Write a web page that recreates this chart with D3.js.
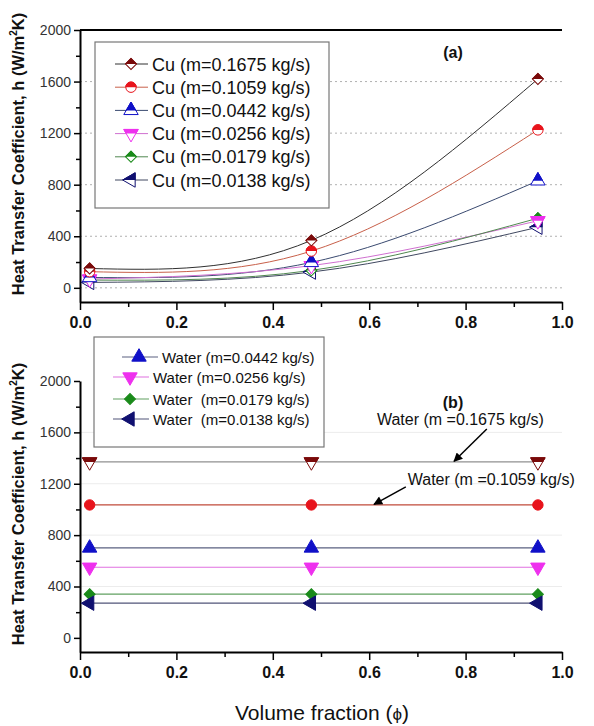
<!DOCTYPE html>
<html>
<head>
<meta charset="utf-8">
<script src="https://cdn.jsdelivr.net/npm/d3@7"></script>
<style>
  body { margin: 0; background: #fff; }
  svg { display: block; font-family: "Liberation Sans", Arial, sans-serif; }
</style>
</head>
<body>
<svg id="chart" width="594" height="726"></svg>
<script>
// x positions (volume fraction)
var phi = [0.02, 0.48, 0.95];

// panel (a) - Cu nanofluid
var cuNames = ["Cu (m=0.1675 kg/s)", "Cu (m=0.1059 kg/s)", "Cu (m=0.0442 kg/s)",
               "Cu (m=0.0256 kg/s)", "Cu (m=0.0179 kg/s)", "Cu (m=0.0138 kg/s)"];
var cu1675 = [150, 368, 1620];
var cu1059 = [125, 285, 1225];
var cu0442 = [80, 197, 830];
var cu0256 = [68, 172, 520];
var cu0179 = [60, 135, 540];
var cu0138 = [42, 122, 470];

// panel (b) - water
var waterNames = ["Water (m=0.0442 kg/s)", "Water (m=0.0256 kg/s)",
                  "Water  (m=0.0179 kg/s)", "Water  (m=0.0138 kg/s)"];
var w1675 = [1370, 1370, 1370];
var w1059 = [1035, 1035, 1035];
var w0442 = [700, 700, 700];
var w0256 = [550, 550, 550];
var w0179 = [340, 340, 340];
var w0138 = [270, 270, 270];

var yTicks = [0, 400, 800, 1200, 1600, 2000];
var yMinor = [200, 600, 1000, 1400, 1800];
var xTicks = [0, 0.2, 0.4, 0.6, 0.8, 1.0];
var xMinor = [0.1, 0.3, 0.5, 0.7, 0.9];

// annotations in panel (b): [text, textX, textY, tailX, tailY, tipX, tipY]
var notes = [
  ["Water (m =0.1675 kg/s)", 0.616, 1658, 0.844, 1626, 0.776, 1375],
  ["Water (m =0.1059 kg/s)", 0.68, 1190, 0.676, 1175, 0.61, 1040]
];

// symbol styles
var maroon = "#7a0a0a", red = "#e8141c", blue = "#1010c8", magenta = "#ee30ee",
    green = "#1a8a1a", navy = "#101070";

var svg = d3.select("#chart");
var defs = svg.append("defs");
defs.append("clipPath").attr("id", "tophalf")
  .append("rect").attr("x", -12).attr("y", -12).attr("width", 24).attr("height", 12);
defs.append("marker").attr("id", "arrow")
  .attr("viewBox", "0 0 10 10").attr("refX", 9).attr("refY", 5)
  .attr("markerWidth", 13).attr("markerHeight", 9).attr("orient", "auto")
  .attr("markerUnits", "userSpaceOnUse")
  .append("path").attr("d", "M0,0 L10,5 L0,10 Z").attr("fill", "#000");

var x = d3.scaleLinear().domain([0, 1]).range([80, 562]);
var yA = d3.scaleLinear().domain([-110, 2000]).range([302, 30]);
var yB = d3.scaleLinear().domain([-110, 2000]).range([652, 381]);

// shape: [d3 symbol, size, rotation]
var shapes = {
  diamond: [d3.symbolSquare, 60, 45],
  circle: [d3.symbolCircle, 85, 0],
  up: [d3.symbolTriangle, 90, 0],
  down: [d3.symbolTriangle, 90, 180],
  left: [d3.symbolTriangle, 90, -90]
};

function marker(g, px, py, shape, color, half) {
  var s = shapes[shape];
  var d = d3.symbol().type(s[0]).size(s[1])();
  var m = g.append("g").attr("transform", "translate(" + px + "," + py + ")");
  if (half) {
    m.append("path").attr("d", d).attr("transform", "rotate(" + s[2] + ")")
      .attr("fill", "#fff").attr("stroke", color).attr("stroke-width", 1);
    m.append("g").attr("clip-path", "url(#tophalf)")
      .append("path").attr("d", d).attr("transform", "rotate(" + s[2] + ")")
      .attr("fill", color).attr("stroke", color).attr("stroke-width", 1);
  } else {
    m.append("path").attr("d", d).attr("transform", "rotate(" + s[2] + ")")
      .attr("fill", color).attr("stroke", color).attr("stroke-width", 1);
  }
}

function drawAxes(y, withTop) {
  var g = svg.append("g");
  // light grid
  g.selectAll(".grid").data([400, 800, 1200, 1600]).enter().append("line")
    .attr("x1", x(0)).attr("x2", x(1))
    .attr("y1", function(d) { return y(d); }).attr("y2", function(d) { return y(d); })
    .attr("stroke", withTop ? "#b0b0b0" : "#ececec")
    .attr("stroke-width", 1).attr("stroke-dasharray", withTop ? "2,3" : null);
  if (withTop) {
    g.append("line").attr("x1", x(0)).attr("x2", x(1)).attr("y1", y(0)).attr("y2", y(0))
      .attr("stroke", "#b0b0b0").attr("stroke-dasharray", "2,3");
    g.append("line").attr("x1", x(0)).attr("x2", x(1)).attr("y1", y(2000)).attr("y2", y(2000))
      .attr("stroke", "#000").attr("stroke-width", 2);
  }
  var ya = g.append("g").attr("transform", "translate(" + x(0) + ",0)")
    .call(d3.axisLeft(y).tickValues(yTicks).tickSize(6).tickSizeOuter(0).tickFormat(d3.format("d")));
  g.append("g").attr("transform", "translate(" + x(0) + ",0)")
    .call(d3.axisLeft(y).tickValues(yMinor).tickSize(4).tickSizeOuter(0).tickFormat(""))
    .select(".domain").remove();
  ya.selectAll("text").attr("font-size", 14).attr("fill", "#333")
    .attr("font-family", "'Liberation Sans', Arial, sans-serif");
  var xa = g.append("g").attr("transform", "translate(0," + y.range()[0] + ")")
    .call(d3.axisBottom(x).tickValues(xTicks).tickSize(8).tickPadding(7).tickSizeOuter(0).tickFormat(d3.format(".1f")));
  g.append("g").attr("transform", "translate(0," + y.range()[0] + ")")
    .call(d3.axisBottom(x).tickValues(xMinor).tickSize(5).tickSizeOuter(0).tickFormat(""))
    .select(".domain").remove();
  xa.selectAll("text").attr("font-size", 16).attr("font-weight", "bold").attr("fill", "#111")
    .attr("font-family", "'Liberation Sans', Arial, sans-serif");
  g.selectAll(".domain").attr("stroke-width", 2);
  g.selectAll(".tick line").attr("stroke-width", 1.5);
}

function yTitle(cy) {
  var t = svg.append("text").attr("transform", "translate(24," + cy + ") rotate(-90)")
    .attr("text-anchor", "middle").attr("font-size", 16.5).attr("font-weight", "bold").attr("fill", "#111");
  t.append("tspan").text("Heat Transfer Coefficient, h (W/m");
  t.append("tspan").attr("font-size", 10).attr("dy", -7).text("2");
  t.append("tspan").attr("dy", 7).text("K)");
}

// ---------- panel (a) ----------
drawAxes(yA, true);
yTitle(154);

var cuSeries = [
  [cu1675, maroon, "#303030", "diamond"],
  [cu1059, red, "#c8604a", "circle"],
  [cu0442, blue, "#3a4a70", "up"],
  [cu0256, magenta, "#d070d0", "down"],
  [cu0179, green, "#508850", "diamond"],
  [cu0138, navy, "#404860", "left"]
];

var curve = d3.line().x(function(d, i) { return x(phi[i]); })
  .y(function(d) { return yA(d); }).curve(d3.curveNatural);

var ga = svg.append("g");
cuSeries.forEach(function(s) {
  ga.append("path").attr("d", curve(s[0])).attr("fill", "none")
    .attr("stroke", s[2]).attr("stroke-width", 1);
});
cuSeries.slice().reverse().forEach(function(s) {
  s[0].forEach(function(v, i) { marker(ga, x(phi[i]), yA(v), s[3], s[1], true); });
});

// legend (a)
var lgA = svg.append("g");
lgA.append("rect").attr("x", 95).attr("y", 42).attr("width", 234).attr("height", 166)
  .attr("fill", "#fff").attr("stroke", "#777").attr("stroke-width", 1.2);
cuSeries.forEach(function(s, i) {
  var ly = 64 + i * 23.2;
  lgA.append("line").attr("x1", 115).attr("x2", 148).attr("y1", ly).attr("y2", ly)
    .attr("stroke", s[2]).attr("stroke-width", 1);
  marker(lgA, 131, ly, s[3], s[1], true);
  lgA.append("text").attr("x", 152).attr("y", ly + 6.5).attr("font-size", 18)
    .attr("fill", "#111").text(cuNames[i]);
});
svg.append("text").attr("x", 453).attr("y", 58).attr("text-anchor", "middle")
  .attr("font-size", 16).attr("font-weight", "bold").attr("fill", "#111").text("(a)");

// ---------- panel (b) ----------
drawAxes(yB, false);
yTitle(504);

var waterSeries = [
  [w1675, maroon, "#909090", "down", true],
  [w1059, red, "#c04a3a", "circle", false],
  [w0442, blue, "#5a6080", "up", false],
  [w0256, magenta, "#e070e0", "down", false],
  [w0179, green, "#60a060", "diamond", false],
  [w0138, navy, "#505478", "left", false]
];

var flat = d3.line().x(function(d, i) { return x(phi[i]); }).y(function(d) { return yB(d); });
var gb = svg.append("g");
waterSeries.forEach(function(s) {
  gb.append("path").attr("d", flat(s[0])).attr("fill", "none")
    .attr("stroke", s[2]).attr("stroke-width", 1.2);
});
waterSeries.forEach(function(s) {
  s[0].forEach(function(v, i) { marker(gb, x(phi[i]), yB(v), s[3], s[1], s[4]); });
});

// legend (b)
var lgB = svg.append("g");
lgB.append("rect").attr("x", 94).attr("y", 337).attr("width", 230).attr("height", 110)
  .attr("fill", "#fff").attr("stroke", "#777").attr("stroke-width", 1.2);
var lgBy = [357, 377, 399, 419];
waterSeries.slice(2).forEach(function(s, i) {
  var x0 = i === 0 ? 122 : 113;
  lgB.append("line").attr("x1", x0).attr("x2", x0 + 36).attr("y1", lgBy[i]).attr("y2", lgBy[i])
    .attr("stroke", s[2]).attr("stroke-width", 1.2);
  marker(lgB, x0 + 17, lgBy[i], s[3], s[1], false);
  lgB.append("text").attr("x", x0 + 40).attr("y", lgBy[i] + 5.5).attr("font-size", 15)
    .attr("fill", "#111").attr("xml:space", "preserve").style("white-space", "pre")
    .text(waterNames[i]);
});
svg.append("text").attr("x", 453).attr("y", 408).attr("text-anchor", "middle")
  .attr("font-size", 16).attr("font-weight", "bold").attr("fill", "#111").text("(b)");

// annotations
notes.forEach(function(n) {
  svg.append("text").attr("x", x(n[1])).attr("y", yB(n[2])).attr("font-size", 16)
    .attr("fill", "#111").text(n[0]);
  svg.append("line").attr("x1", x(n[3])).attr("y1", yB(n[4]))
    .attr("x2", x(n[5])).attr("y2", yB(n[6]))
    .attr("stroke", "#000").attr("stroke-width", 1.5).attr("marker-end", "url(#arrow)");
});

// x title
var xt = svg.append("text").attr("x", 322).attr("y", 720).attr("text-anchor", "middle")
  .attr("font-size", 21).attr("fill", "#111");
xt.append("tspan").text("Volume fraction (");
xt.append("tspan").attr("font-size", 17).text("\u03d5");
xt.append("tspan").text(")");
</script>
</body>
</html>
